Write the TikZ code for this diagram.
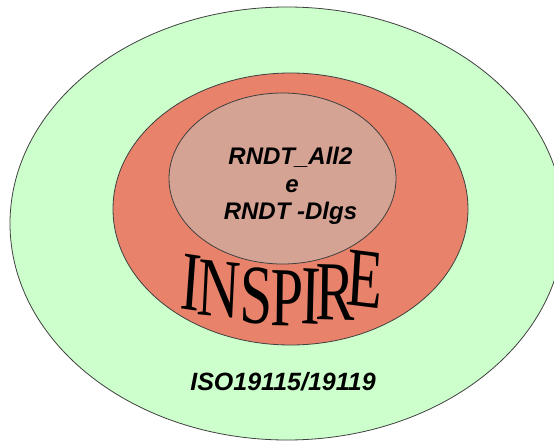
\documentclass[tikz,border=0pt]{standalone}
\usepackage{fontspec}
\setmainfont{Liberation Sans}
\newfontfamily\serifword{Liberation Serif}
\definecolor{isogreen}{HTML}{CCFFCC}
\definecolor{inspirered}{HTML}{E8826A}
\definecolor{rndtrose}{HTML}{D4A394}
\begin{document}
\begin{tikzpicture}[x=1pt,y=-1pt,
  ring/.style={draw=black!75,line width=0.8pt},
  label/.style={font=\fontsize{24}{24}\selectfont\bfseries\itshape,inner sep=0pt},
  letter/.style={font=\fontsize{84}{84}\selectfont\serifword,inner sep=0pt,xscale=0.7}]
  \useasboundingbox (0,0) rectangle (554,441);
  \clip (0,0) rectangle (554,441);
  \fill[white] (0,0) rectangle (554,441);
  % nested scopes
  \draw[ring,fill=isogreen] (287,223.5) ellipse [x radius=277,y radius=216.5];
  \draw[ring,fill=inspirered] (290.5,209) ellipse [x radius=177.5,y radius=136];
  \draw[ring,fill=rndtrose] (282.5,178.5) ellipse [x radius=113.5,y radius=85.5];
  % labels of the inner scope
  \node[label] (all2) at (290.5,157) {RNDT\_All2};
  \node[label] (conj) at (292,186) {e};
  \node[label] (dlgs) at (290.5,213) {RNDT -Dlgs};
  % arched INSPIRE lettering
  \node[letter,rotate=-6] (l1) at (191,283) {I};
  \node[letter,rotate=-4] (l2) at (219,289) {N};
  \node[letter,rotate=-2] (l3) at (257,296) {S};
  \node[letter,rotate=-1] (l4) at (287,298) {P};
  \node[letter,rotate=-2] (l5) at (311,297) {I};
  \node[letter,rotate=-1] (l6) at (335,292) {R};
  \node[letter,rotate=-5] (l7) at (365,279) {E};
  % outer scope label
  \node[label,font=\fontsize{25}{25}\selectfont\bfseries\itshape] (iso) at (283,382) {ISO19115/19119};
\end{tikzpicture}
\end{document}
